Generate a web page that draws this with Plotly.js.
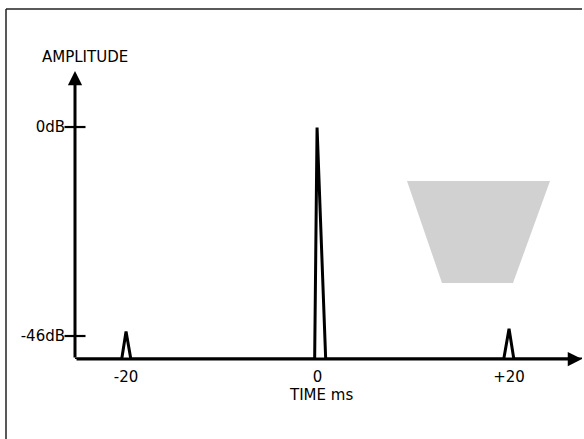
<!DOCTYPE html>
<html>
<head>
<meta charset="utf-8">
<script src="https://cdn.plot.ly/plotly-3.0.1.min.js"></script>
<style>html,body{margin:0;padding:0;background:#fff;}#chart{width:584px;height:439px;}</style>
</head>
<body>
<div id="chart"></div>
<script>
// ---- data ----
const timeMs  = [-25.33, -20.45, -20, -19.5, -0.3, -0.05, 0.85, 19.45, 20, 20.5, 27.62];
const levelDb = [-51.06, -51.06, -45.0, -51.06, -51.06, -0.1, -51.06, -51.06, -44.4, -51.06, -51.06];
const xTickVals = [-20, 0, 20];
const xTickText = ['-20', '0', '+20'];
const yTickVals = [0, -46];
const yTickText = ['0dB', '-46dB'];
const xRange = [-25.33, 27.62];
const yRange = [-51.06, 12.33];

const ink = '#000000';
const fontFam = 'DejaVu Sans, sans-serif';

const traces = [
  {
    x: timeMs, y: levelDb, type: 'scatter', mode: 'lines',
    line: {color: ink, width: 3, shape: 'linear'},
    cliponaxis: false, hoverinfo: 'skip', showlegend: false
  },
  {
    x: yTickVals.map(() => xRange[0]), y: yTickVals, type: 'scatter', mode: 'markers',
    marker: {symbol: 'line-ew', size: 15, line: {color: ink, width: 2.2}},
    cliponaxis: false, hoverinfo: 'skip', showlegend: false
  }
];

const layout = {
  width: 584, height: 439,
  margin: {l: 75, r: 2, t: 71, b: 80},
  paper_bgcolor: '#ffffff', plot_bgcolor: '#ffffff',
  showlegend: false,
  font: {family: fontFam, color: ink, size: 15},
  xaxis: {
    range: xRange, showgrid: false, zeroline: false, showline: false,
    tickmode: 'array', tickvals: xTickVals, ticktext: xTickText,
    ticks: '', tickfont: {family: fontFam, size: 15, color: ink},
    ticklabelstandoff: 7, fixedrange: true
  },
  yaxis: {
    range: yRange, showgrid: false, zeroline: false, showline: false,
    tickmode: 'array', tickvals: yTickVals, ticktext: yTickText,
    ticks: '', tickfont: {family: fontFam, size: 15, color: ink},
    ticklabelstandoff: 9, fixedrange: true
  },
  annotations: [
    { // y axis arrow
      x: xRange[0], y: yRange[1], xref: 'x', yref: 'y',
      ax: xRange[0], ay: yRange[0], axref: 'x', ayref: 'y',
      text: '', showarrow: true, arrowhead: 2, arrowsize: 0.95, arrowwidth: 3, arrowcolor: ink
    },
    { // x axis arrow
      x: xRange[1], y: yRange[0], xref: 'x', yref: 'y',
      ax: xRange[0], ay: yRange[0], axref: 'x', ayref: 'y',
      text: '', showarrow: true, arrowhead: 2, arrowsize: 0.95, arrowwidth: 3, arrowcolor: ink
    },
    {
      text: 'AMPLITUDE', x: xRange[0], xshift: 10, y: 1.0486, xref: 'x', yref: 'paper',
      xanchor: 'center', yanchor: 'middle', showarrow: false,
      font: {family: fontFam, size: 15, color: ink}
    },
    {
      text: 'TIME ms', x: 0.37, y: -0.125, xref: 'x', yref: 'paper',
      xanchor: 'center', yanchor: 'middle', showarrow: false,
      font: {family: fontFam, size: 15, color: ink}
    }
  ],
  shapes: [
    { // stippled scan patch
      type: 'path', xref: 'paper', yref: 'paper',
      path: 'M0.6548,0.6181 L0.9369,0.6181 L0.8639,0.2639 L0.7239,0.2639 Z',
      fillcolor: 'rgba(140,140,140,0.4)', line: {width: 0}, layer: 'below'
    },
    { // frame top
      type: 'line', xref: 'paper', yref: 'paper',
      x0: -0.1361, x1: 1.0, y0: 1.2153, y1: 1.2153,
      line: {color: '#222222', width: 1.5}
    },
    { // frame left
      type: 'line', xref: 'paper', yref: 'paper',
      x0: -0.1361, x1: -0.1361, y0: 1.2153, y1: -0.32,
      line: {color: '#222222', width: 1.5}
    }
  ]
};

Plotly.newPlot('chart', traces, layout, {displayModeBar: false, staticPlot: true});
</script>
</body>
</html>
